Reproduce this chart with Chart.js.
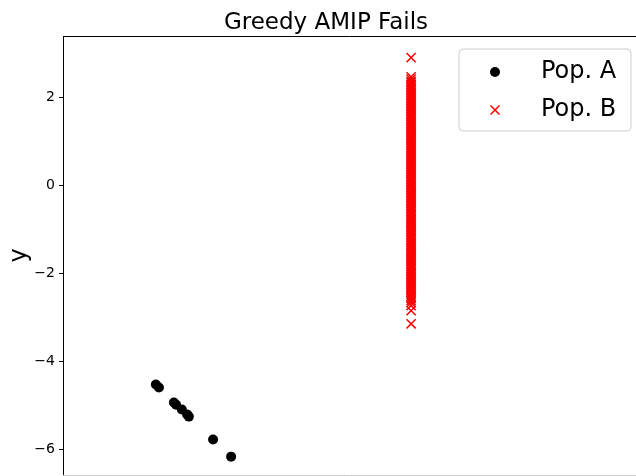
<!DOCTYPE html>
<html lang="en">
<head>
    <meta charset="UTF-8">
    <title>Greedy AMIP Fails</title>
    <script src="https://cdn.jsdelivr.net/npm/chart.js"></script>
    <style>
        body { margin: 0; background: #fff; }
        #wrap { width: 636px; height: 476px; }
    </style>
</head>
<body>
    <div id="wrap"><canvas id="amipChart" width="636" height="476"></canvas></div>

    <script>
        // data
        const popAX = [2.11, 2.18, 2.52, 2.57, 2.70, 2.82, 2.86, 3.41, 3.82];
        const popAY = [-4.52, -4.59, -4.93, -4.98, -5.09, -5.20, -5.25, -5.77, -6.16];

        const popBx = 7.91;
        const popBY = [2.91, 2.47, 2.42, 2.37, 2.34, 2.30, 2.27, 2.23, 2.19, 2.16, 2.12, 2.08,
            2.05, 2.01, 1.97, 1.94, 1.90, 1.86, 1.83, 1.79, 1.75, 1.72, 1.68, 1.64, 1.61, 1.57,
            1.53, 1.50, 1.46, 1.42, 1.39, 1.35, 1.31, 1.28, 1.24, 1.20, 1.17, 1.13, 1.09, 1.06,
            1.02, 0.98, 0.95, 0.91, 0.87, 0.84, 0.80, 0.76, 0.73, 0.69, 0.65, 0.62, 0.58, 0.54,
            0.51, 0.47, 0.43, 0.40, 0.36, 0.32, 0.29, 0.25, 0.21, 0.18, 0.14, 0.10, 0.07, 0.03,
            -0.01, -0.04, -0.08, -0.12, -0.15, -0.19, -0.23, -0.26, -0.30, -0.34, -0.37, -0.41,
            -0.45, -0.48, -0.52, -0.56, -0.59, -0.63, -0.67, -0.70, -0.74, -0.78, -0.81, -0.85,
            -0.89, -0.92, -0.96, -1.00, -1.03, -1.07, -1.11, -1.14, -1.18, -1.22, -1.25, -1.29,
            -1.33, -1.36, -1.40, -1.44, -1.47, -1.51, -1.55, -1.58, -1.62, -1.66, -1.69, -1.73,
            -1.77, -1.80, -1.84, -1.88, -1.91, -1.95, -1.99, -2.02, -2.06, -2.10, -2.13, -2.17,
            -2.21, -2.24, -2.28, -2.32, -2.35, -2.39, -2.43, -2.47, -2.52, -2.56, -2.61, -2.66,
            -2.73, -2.84, -3.14];

        const yTicks = [-6, -4, -2, 0, 2];
        const seriesNames = ['Pop. A', 'Pop. B'];
        const titleText = 'Greedy AMIP Fails';

        const FONT = "'DejaVu Sans', sans-serif";

        // title, top spine and legend box
        const extras = {
            id: 'extras',
            afterDraw(chart) {
                const ctx = chart.ctx;
                const a = chart.chartArea;
                ctx.save();
                ctx.strokeStyle = '#000';
                ctx.lineWidth = 1;
                ctx.beginPath();
                ctx.moveTo(a.left, a.top + 0.5);
                ctx.lineTo(a.right, a.top + 0.5);
                ctx.stroke();

                // faint line along the cropped bottom edge
                ctx.strokeStyle = '#cccccc';
                ctx.beginPath();
                ctx.moveTo(a.left, 475.5);
                ctx.lineTo(a.right, 475.5);
                ctx.stroke();

                ctx.fillStyle = '#000';
                ctx.font = '23px ' + FONT;
                ctx.textAlign = 'center';
                ctx.textBaseline = 'alphabetic';
                ctx.fillText(titleText, 326, 29);

                // legend
                const bx = 459, by = 49, bw = 172, bh = 82, r = 4;
                ctx.beginPath();
                ctx.moveTo(bx + r, by);
                ctx.arcTo(bx + bw, by, bx + bw, by + bh, r);
                ctx.arcTo(bx + bw, by + bh, bx, by + bh, r);
                ctx.arcTo(bx, by + bh, bx, by, r);
                ctx.arcTo(bx, by, bx + bw, by, r);
                ctx.closePath();
                ctx.fillStyle = 'rgba(255,255,255,0.8)';
                ctx.fill();
                ctx.strokeStyle = '#cccccc';
                ctx.stroke();

                ctx.fillStyle = '#000';
                ctx.beginPath();
                ctx.arc(495, 72, 5, 0, Math.PI * 2);
                ctx.fill();

                ctx.strokeStyle = '#ff0000';
                ctx.lineWidth = 1.5;
                ctx.beginPath();
                ctx.moveTo(490.5, 105.5); ctx.lineTo(499.5, 114.5);
                ctx.moveTo(499.5, 105.5); ctx.lineTo(490.5, 114.5);
                ctx.stroke();

                ctx.fillStyle = '#000';
                ctx.font = '24px ' + FONT;
                ctx.textAlign = 'left';
                ctx.textBaseline = 'middle';
                ctx.fillText(seriesNames[0], 541, 72);
                ctx.fillText(seriesNames[1], 541, 110);
                ctx.restore();
            }
        };

        const ctx = document.getElementById('amipChart').getContext('2d');
        new Chart(ctx, {
            type: 'scatter',
            data: {
                datasets: [{
                    label: seriesNames[0],
                    data: popAX.map((x, i) => ({ x: x, y: popAY[i] })),
                    pointStyle: 'circle',
                    pointRadius: 5,
                    backgroundColor: '#000',
                    borderColor: '#000',
                    borderWidth: 0
                }, {
                    label: seriesNames[1],
                    data: popBY.map(y => ({ x: popBx, y: y })),
                    pointStyle: 'crossRot',
                    pointRadius: 6.5,
                    borderColor: '#ff0000',
                    backgroundColor: '#ff0000',
                    borderWidth: 1.5
                }]
            },
            options: {
                responsive: false,
                animation: false,
                layout: { autoPadding: false, padding: { top: 36, right: 0, bottom: 1, left: 0 } },
                plugins: {
                    legend: { display: false },
                    title: { display: false },
                    tooltip: { enabled: false }
                },
                scales: {
                    x: {
                        type: 'linear',
                        display: false,
                        min: 0,
                        max: 13.02
                    },
                    y: {
                        type: 'linear',
                        min: -6.577,
                        max: 3.40,
                        afterFit(scale) {
                            scale.width = 63;
                            scale.paddingTop = 0;
                            scale.paddingBottom = 0;
                        },
                        afterBuildTicks(scale) { scale.ticks = yTicks.map(v => ({ value: v })); },
                        border: { display: true, color: '#000', width: 1 },
                        grid: { display: true, drawOnChartArea: false, drawTicks: true, tickLength: 4, color: '#000' },
                        ticks: {
                            color: '#000',
                            padding: 4,
                            font: { family: FONT, size: 14 },
                            callback: v => (v < 0 ? '\u2212' + Math.abs(v) : String(v))
                        },
                        title: {
                            display: true,
                            text: 'y',
                            color: '#000',
                            font: { family: FONT, size: 24 },
                            padding: { top: 5, bottom: 0 }
                        }
                    }
                }
            },
            plugins: [extras]
        });
    </script>
</body>
</html>
